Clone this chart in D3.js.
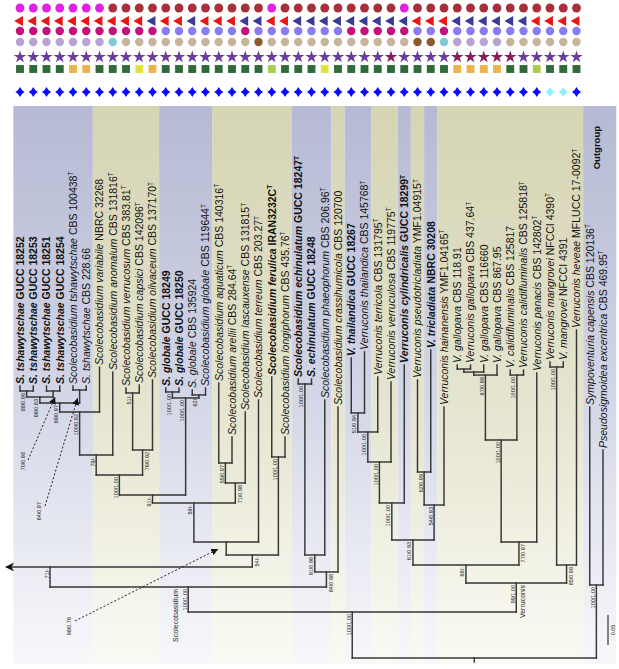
<!DOCTYPE html>
<html><head><meta charset="utf-8">
<script src="https://cdn.jsdelivr.net/npm/d3@7"></script>
<style>html,body{margin:0;padding:0;background:#fff}svg{display:block}</style>
</head><body><svg id="chart" width="619" height="669"></svg>
<script>
// ---------------- DATA ----------------
const taxonNames = [
 "S. tshawytschae","S. tshawytschae","S. tshawytschae","S. tshawytschae",
 "Scolecobasidium tshawytschae","S. tshawytschae","Scolecobasidium variabile",
 "Scolecobasidium anomalum","Scolecobasidium verrucosum","Scolecobasidium capsici",
 "Scolecobasidium olivaceum","S. globale","S. globale","S. globale","Scolecobasidium globale",
 "Scolecobasidium aquaticum","Scolecobasidium arellii","Scolecobasidium lascauxense",
 "Scolecobasidium terreum","Scolecobasidium ferulica","Scolecobasidium longiphorum",
 "Scolecobasidium echinulatum","S. echinulatum","Scolecobasidium phaeophorum",
 "Scolecobasidium crassihumicola","V. thailandica","Verruconis thailandica",
 "Verruconis terricola","Verruconis verruculosa","Verruconis cylindricalis",
 "Verruconis pseudotricladiata","V. tricladiata","Verruconis hainanensis",
 "V. gallopava","Verruconis gallopava","V. gallopava","V. gallopava",
 "V. calidifluminalis","Verruconis calidifluminalis","Verruconis panacis",
 "Verruconis mangrovei","V. mangrovei","Verruconis heveae",
 "Sympoventuria capensis","Pseudosigmoidea excentrica"
];
const strainIds = [
 "GUCC 18252","GUCC 18253","GUCC 18251","GUCC 18254","CBS 100438","CBS 228.66","NBRC 32268",
 "CBS 131816","CBS 383.81","CBS 142096","CBS 137170","GUCC 18249","GUCC 18250","CBS 135924",
 "CBS 119644","CBS 140316","CBS 284.64","CBS 131815","CBS 203.27","IRAN3232C","CBS 435.76",
 "GUCC 18247","GUCC 18248","CBS 206.96","CBS 120700","GUCC 18267","CBS 145768","CBS 131795",
 "CBS 119775","GUCC 18299","YMF1.04915","NBRC 30208","YMF1.04165","CBS 118.91","CBS 437.64",
 "CBS 116660","CBS 867.95","CBS 125817","CBS 125818","CBS 142802","NFCCI 4390","NFCCI 4391",
 "MFLUCC 17-0092","CBS 120136","CBS 469.95"
];
const typeStrains = [4,7,8,9,10,14,15,16,17,18,19,20,21,23,26,27,28,29,30,32,34,38,39,40,42,43,44];
const newIsolates = [0,1,2,3,11,12,19,21,22,25,29,31];
const hiddenCladeIndex = -13;   // clade continuing off the left edge

// tree with branch lengths (substitutions/site); internal nodes named
const treeNewick = `
(
 (
  (
   (off:0.05,
    (
     (
      (
       (
        (
         (
          (
           (
            ((t0:0.0083,t1:0.0083)n01:0.01,(t2:0.0083,t3:0.0083)n23:0.01)n397:0.01,
            (t4:0.0067,t5:0.0067)n45:0.0217
           )n403:0.015,
           t6:0.075
          )n412:0.0717,
          t7:0.1383
         )n455:0.0333,
         ((t8:0.0083,t9:0.0133)n89:0.095,t10:0.1167)n450:0.0417
        )n475:0.0333,
        ((t11:0.0067,t12:0.0067)n1112:0.01,(t13:0.0083,t14:0.0117)n1314:0.005)nglob:0.1617
       )n495:0.0133,
       ((t15:0.1333,t16:0.0433)n463:0.0333,t17:0.1183)n483:0.0333
      )n503:0.065,
      t18:0.2367
     )n542:0.0217,
     (t19:0.1333,t20:0.0333)n457:0.1633
    )n555:0.02
   )n567:0.0333,
   (
    ((t21:0.0083,t22:0.0083)n2122:0.285,t23:0.2583)n555b:0.0283,
    t24:0.275
   )n572:0.025
  )nscol:0.0417,
  (
   (
    (
     (
      (
       ((t25:0.0917,t26:0.1017)n413:0.0317,t27:0.0917)n432:0.05,
       t28:0.1333
      )n462:0.0683,
      t29:0.23
     )n503v:0.0617,
     ((t30:0.1533,t31:0.2033)n472:0.055,t32:0.1633)n505:0.0583
    )n540:0.0417,
    (
     (
      (((t33:0.0067,t34:0.0067)n3334:0.005,t35:0.0117)n3335:0.005,t36:0.0167)n3336:0.1083,
      (t37:0.0083,t38:0.0083)n3738:0.1083
     )n440:0.17,
     t39:0.2817
    )n542v:0.0383
   )n565:0.03,
   ((t40:0.0083,t41:0.0083)n4041:0.33,t42:0.3917)n565b:0.03
  )nver:0.0483
 )ning:0.0767,
 (t43:0.2967,t44:0.225)nout:0.1217
)root;`;

const supportValues = {
 n01:"88/0.96", n23:"70/0.98", n397:"66/0.83", n45:"64/0.97", n403:"69/0.97", n412:"100/0.92",
 n455:"79/-", n89:"51/-", n450:"76/0.92", n475:"100/1.00", n1112:"100/1.00", n1314:"62/-",
 nglob:"100/1.00", n495:"91/-", n463:"55/0.97", n483:"71/0.98", n503:"58/-", n542:"98/0.76",
 n457:"100/1.00", n555:"54/-", n567:"71/-", n2122:"100/1.00", n555b:"91/0.96", n572:"84/0.98",
 nscol:"100/1.00", n413:"51/0.94", n432:"100/1.00", n462:"100/1.00", n503v:"100/1.00",
 n472:"62/0.99", n505:"54/0.93", n540:"61/0.93", n3336:"97/0.99", n3738:"100/1.00",
 n440:"100/1.00", n542v:"77/0.97", n565:"68/-", n4041:"100/1.00", n565b:"85/0.98",
 nver:"99/1.00", ning:"100/1.00", nout:"100/1.00"
};
const cladeNames = {nscol:"Scolecobasidium", nver:"Verruconis"};
const bandGroups = [[0,5,"b"],[6,10,"k"],[11,14,"b"],[15,20,"k"],[21,23,"b"],[24,24,"k"],
 [25,26,"b"],[27,28,"k"],[29,29,"b"],[30,30,"k"],[31,31,"b"],[32,42,"k"],[43,44,"b"]];
const outgroupLabel = "Outgroup";
const scaleBarValue = 0.05;

// character states for the 43 ingroup strains (7 traits)
const traitA = [..."MMMMMMM" + "RRRRRRRRRRRR" + "M" + "RRRRRRRRR" + "M" + "RRRRRRRRRRRRR"];
const traitB = [..."rrrrrrrrrr" + "n" + "rr" + "n" + "rrr" + "nn" + "rr" + "nnnnnnnnn" + "rrr" + "nnnnnn" + "rrrr"];
const traitC = [..."ppppppppppp" + "ssssss" + "p" + "sssssss" + "ppppp" + "ss" + "p" + "ssssssssss"];
const traitD = [..."lllllll" + "c" + "tttttttttt" + "b" + "ttttttttttt" + "bb" + "c" + "llll" + "tttttt"];
const traitE = [..."pppppppppppppppppppppppppppp" + "m" + "pppp" + "mmmmm" + "ppppp"];
const traitF = [..."gggg" + "oo" + "ggg" + "y" + "o" + "gggggggg" + "v" + "ggg" + "y" + "ggggggggg" + "oooo" + "gg" + "v" + "ggg"];
const traitG = [..."bbbbbbbbbbbbbbbbbbbbbbbbbbbbbbbbbbbbbbbb" + "cc" + "b"];

// ---------------- STYLE / LAYOUT ----------------
const traitColors = [
 {M:"#df22e4", R:"#a7303a"},
 {r:"#ec1414", n:"#393b97"},
 {p:"#c2127c", s:"#8a7cf0"},
 {l:"#b9a3d2", c:"#7fcbd6", t:"#c8b49c", b:"#8b5a2e"},
 {p:"#6b3c9b", m:"#8a1c5c"},
 {g:"#2f6a39", o:"#efb14a", y:"#e0e03c", v:"#a9cb4e"},
 {b:"#0b0bff", c:"#8af2ff"}
];
const traitRows = [traitA,traitB,traitC,traitD,traitE,traitF,traitG];
const rowY = [8,21,31,42,57,69,92];

const sparkle = {draw(ctx,size){const r=Math.sqrt(size)*0.72, ri=r*0.42;
 ctx.moveTo(0,-r*1.1);ctx.lineTo(ri,-ri);ctx.lineTo(r,0);ctx.lineTo(ri,ri);
 ctx.lineTo(0,r*1.1);ctx.lineTo(-ri,ri);ctx.lineTo(-r,0);ctx.lineTo(-ri,-ri);ctx.closePath();}};
const rowSymbols = [
 {type:d3.symbolCircle,size:62,rot:0},
 {type:d3.symbolTriangle,size:44,rot:-90},
 {type:d3.symbolCircle,size:56,rot:0},
 {type:d3.symbolCircle,size:56,rot:0},
 {type:d3.symbolStar,size:48,rot:0},
 {type:d3.symbolSquare,size:62,rot:0},
 {type:sparkle,size:40,rot:0}
];

const font = "'Liberation Sans', Arial, sans-serif";
const svg = d3.select("#chart");
svg.append("rect").attr("width",619).attr("height",669).attr("fill","#fff");
const xScale = d3.scaleLinear().domain([0,44]).range([20,603]);
const yScale = d3.scaleLinear().domain([0,0.05]).range([658,628]);

// ---------------- parse tree ----------------
function parseNewick(s){
  let i=0;
  function node(){
    const n={};
    if(s[i]==="("){ n.children=[]; i++; n.children.push(node());
      while(s[i]===","){i++; n.children.push(node());} i++; }
    let name=""; while(i<s.length && !",:();".includes(s[i])) name+=s[i++];
    n.name=name; n.length=0;
    if(s[i]===":"){ i++; let v=""; while(i<s.length && !",();".includes(s[i])) v+=s[i++]; n.length=+v; }
    return n;
  }
  return node();
}
const root = d3.hierarchy(parseNewick(treeNewick.replace(/\s+/g,"")));
root.eachBefore(d=>{ d.len = (d.parent?d.parent.len:0) + (d.parent?d.data.length:0); });
root.eachAfter(d=>{
  if(!d.children){ d.idx = d.data.name==="off" ? hiddenCladeIndex : +d.data.name.slice(1); d.x = xScale(d.idx); }
  else { d.x = (d.children[0].x + d.children[d.children.length-1].x)/2; }
});
const nodes = root.descendants();
const byName = {}; nodes.forEach(d=>byName[d.data.name]=d);

// ---------------- defs ----------------
const defs = svg.append("defs");
function grad(id, c0, c1, c2){
  const g = defs.append("linearGradient").attr("id",id).attr("x1",0).attr("y1",0).attr("x2",0).attr("y2",1);
  g.append("stop").attr("offset","0%").attr("stop-color",c0);
  g.append("stop").attr("offset","50%").attr("stop-color",c1);
  g.append("stop").attr("offset","100%").attr("stop-color",c2);
}
grad("gb","#b5b9d3","#d2d5e6","#f8f8fb");
grad("gk","#d5d4b3","#e4e3cd","#fafaf4");
defs.append("marker").attr("id","tipArrow").attr("viewBox","0 0 10 10").attr("refX",10).attr("refY",5)
  .attr("markerWidth",7).attr("markerHeight",7).attr("markerUnits","userSpaceOnUse").attr("orient","auto")
  .append("path").attr("d","M0,0L10,5L0,10Z").attr("fill","#111");
defs.append("marker").attr("id","bigArrow").attr("viewBox","0 0 10 10").attr("refX",9).attr("refY",5)
  .attr("markerWidth",10).attr("markerHeight",9).attr("markerUnits","userSpaceOnUse").attr("orient","auto-start-reverse")
  .append("path").attr("d","M0,0L10,5L0,10L3,5Z").attr("fill","#111");

// ---------------- bands ----------------
const bandTop = 106, bandBottom = 664;
svg.append("g").selectAll("rect").data(bandGroups).join("rect")
  .attr("x",(d,i)=>xScale(d[0]-0.5))
  .attr("width",(d,i)=>xScale(i===bandGroups.length-1 ? d[1]+1 : d[1]+0.5)-xScale(d[0]-0.5))
  .attr("y",bandTop).attr("height",bandBottom-bandTop)
  .attr("fill",d=>d[2]==="b"?"url(#gb)":"url(#gk)");

// ---------------- tree lines ----------------
const lineColor = "#353535", lw = 1.45;
const gT = svg.append("g").attr("stroke",lineColor).attr("stroke-width",lw).attr("stroke-linecap","square").attr("fill","none");
nodes.filter(d=>d.parent && d.data.name!=="off").forEach(d=>{
  gT.append("line").attr("x1",d.x).attr("x2",d.x).attr("y1",yScale(d.len)).attr("y2",yScale(d.parent.len));
});
nodes.filter(d=>d.children).forEach(d=>{
  let x1 = d.children[0].x, x2 = d.children[d.children.length-1].x;
  const ln = gT.append("line").attr("y1",yScale(d.len)).attr("y2",yScale(d.len)).attr("x2",x2);
  if(x1 < 5){ ln.attr("x1",6).attr("marker-start","url(#bigArrow)").attr("stroke-linecap","butt"); }
  else ln.attr("x1",x1);
});
gT.append("line").attr("x1",root.x).attr("x2",root.x).attr("y1",yScale(0)).attr("y2",yScale(0)+4);

// ---------------- support values ----------------
const rightSide = new Set(["n555","n572","n542v","n565b","n483","n450"]);
const arrowLayout = {
  n23:{lx:25,ly:452,sx:28,sy:460,dx:2,dy:6},
  n45:{lx:41,ly:502,sx:45,sy:506,dx:-2,dy:8},
  n542:{lx:71,ly:617,sx:75,sy:621,dx:-8,dy:7}
};
const gS = svg.append("g").attr("font-family",font).attr("font-size",5.5).attr("fill","#222");
nodes.filter(d=>supportValues[d.data.name]).forEach(d=>{
  const nm = d.data.name, y = yScale(d.len), txt = supportValues[nm];
  if(arrowLayout[nm]){
    const a = arrowLayout[nm];
    gS.append("text").attr("transform",`translate(${a.lx},${a.ly}) rotate(-90)`).attr("text-anchor","end").text(txt);
    svg.append("line").attr("x1",a.sx).attr("y1",a.sy).attr("x2",d.x+a.dx).attr("y2",y+a.dy)
      .attr("stroke","#222").attr("stroke-width",1).attr("stroke-dasharray","2,2").attr("marker-end","url(#tipArrow)");
    return;
  }
  const bx = rightSide.has(nm) ? d.x+6.5 : d.x-1.5;
  gS.append("text").attr("transform",`translate(${bx},${y+2}) rotate(-90)`).attr("text-anchor","end").text(txt);
});
// clade names
const scol = byName.nscol, ver = byName.nver;
svg.append("text").attr("font-family",font).attr("font-size",7).attr("fill","#222")
  .attr("transform",`translate(${scol.x-10},${yScale(scol.len)+2}) rotate(-90)`).attr("text-anchor","end").text(cladeNames.nscol);
svg.append("text").attr("font-family",font).attr("font-size",7).attr("fill","#222")
  .attr("transform",`translate(${ver.x+9},${yScale(ver.len)+2}) rotate(-90)`).attr("text-anchor","end").text(cladeNames.nver);

// ---------------- tip labels ----------------
const gL = svg.append("g").attr("font-family",font).attr("font-size",10.5).attr("fill","#111");
root.leaves().filter(d=>d.data.name!=="off").forEach(d=>{
  const i = d.idx, y = yScale(d.len);
  const t = gL.append("text").attr("transform",`translate(${d.x+3.8},${y-2}) rotate(-90)`)
    .attr("text-anchor","start").attr("font-weight",newIsolates.includes(i)?"bold":"normal");
  t.append("tspan").attr("font-style","italic").text(taxonNames[i]);
  t.append("tspan").text(" "+strainIds[i]);
  if(typeStrains.includes(i)) t.append("tspan").attr("font-size",6.5).attr("dy",-3.5).text("T");
});

// outgroup label
svg.append("text").attr("font-family",font).attr("font-size",9.5).attr("font-weight","bold").attr("fill","#111")
  .attr("transform",`translate(${(xScale(43)+xScale(44))/2+3.5},126) rotate(-90)`).attr("text-anchor","end").text(outgroupLabel);

// scale bar
const sbY0 = 645, sbLen = yScale(0)-yScale(scaleBarValue);
svg.append("line").attr("x1",608).attr("x2",608).attr("y1",sbY0).attr("y2",sbY0-sbLen).attr("stroke",lineColor).attr("stroke-width",1.2);
svg.append("text").attr("font-family",font).attr("font-size",5.5).attr("fill","#222")
  .attr("transform",`translate(615,${sbY0-sbLen/2}) rotate(-90)`).attr("text-anchor","middle").text(String(scaleBarValue));

// ---------------- trait markers ----------------
const gM = svg.append("g");
traitRows.forEach((row,r)=>{
  const sym = d3.symbol().type(rowSymbols[r].type).size(rowSymbols[r].size);
  gM.append("g").selectAll("path").data(row).join("path")
    .attr("d",sym)
    .attr("transform",(v,i)=>`translate(${xScale(i)},${rowY[r]}) rotate(${rowSymbols[r].rot})`)
    .attr("fill",v=>traitColors[r][v]);
});
</script></body></html>
